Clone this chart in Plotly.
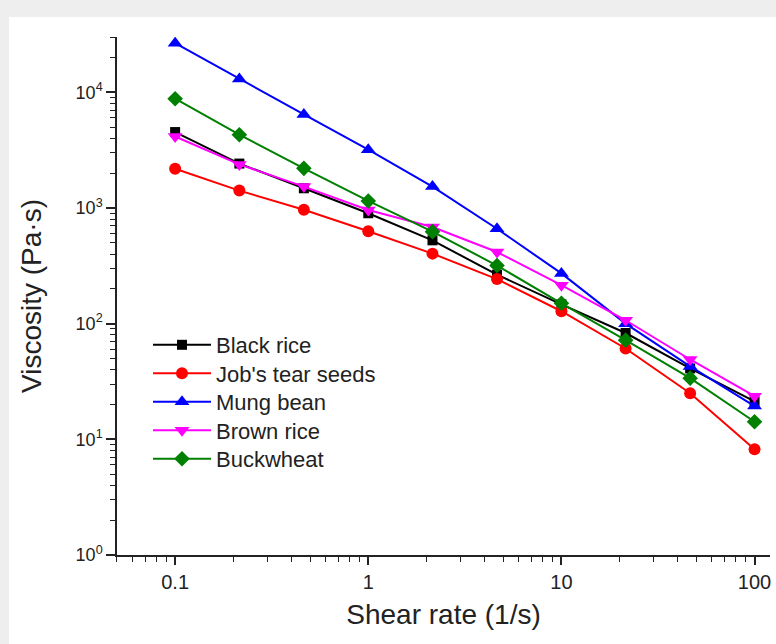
import plotly.graph_objects as go

shear_rate = [0.1, 0.215, 0.464, 1, 2.15, 4.64, 10, 21.5, 46.4, 100]
black_rice = [4530, 2420, 1480, 900, 525, 265, 147, 83, 41, 21.3]
jobs_tear = [2180, 1413, 966, 630, 403, 243, 128, 61, 25, 8.2]
mung_bean = [26600, 13000, 6440, 3190, 1530, 661, 272, 100, 42.7, 19.4]
brown_rice = [4150, 2380, 1530, 960, 684, 416, 215, 107, 49, 23.6]
buckwheat = [8800, 4300, 2200, 1150, 624, 318, 150, 72, 33.8, 14.2]

series = [
    ("Black rice", black_rice, "#000000", "square", 10),
    ("Job's tear seeds", jobs_tear, "#ff0000", "circle", 12),
    ("Mung bean", mung_bean, "#0000ff", "triangle-up", 13),
    ("Brown rice", brown_rice, "#ff00ff", "triangle-down", 13),
    ("Buckwheat", buckwheat, "#008000", "diamond", 12),
]

font_family = "Liberation Sans, Arial, sans-serif"
L, R, T, B = 117, 6, 37, 89
W, H = 776, 644
pw, ph = W - L - R, H - T - B

def px_x(p):
    return (p - L) / pw

def px_y(p):
    return (H - B - p) / ph

legend_names = ["legend", "legend2", "legend3", "legend4", "legend5"]
legend_rows = [345, 373.5, 402, 430.5, 459]

fig = go.Figure()
for (name, vals, color, sym, size), lg in zip(series, legend_names):
    fig.add_trace(go.Scatter(
        x=shear_rate, y=vals, name=name, mode="lines+markers",
        line=dict(color=color, width=2),
        marker=dict(symbol=sym, size=size, color=color, line=dict(color=color, width=0)),
        legend=lg,
    ))

fig.add_shape(type="rect", xref="paper", yref="paper",
              x0=px_x(9), x1=px_x(780), y0=px_y(648), y1=px_y(17),
              fillcolor="white", line=dict(width=0), layer="below")

legend_layout = {}
for lg, row in zip(legend_names, legend_rows):
    legend_layout[lg] = dict(
        x=px_x(148), y=px_y(row), xanchor="left", yanchor="middle",
        bgcolor="rgba(0,0,0,0)", font=dict(size=22, color="#222222"),
        itemwidth=58, tracegroupgap=0,
    )

fig.update_layout(
    width=W, height=H,
    margin=dict(l=L, r=R, t=T, b=B, pad=0),
    paper_bgcolor="#eeeeee",
    plot_bgcolor="white",
    font=dict(family=font_family, color="#222222"),
    showlegend=True,
    **legend_layout,
)

fig.update_xaxes(
    type="log", range=[-1.301, 2.08],
    showline=True, linecolor="#222222", linewidth=1.5,
    showgrid=False, zeroline=False,
    ticks="outside", ticklen=8, tickwidth=1.5, tickcolor="#222222",
    tickvals=[0.1, 1, 10, 100], ticktext=["0.1", "1", "10", "100"],
    tickfont=dict(size=20, color="#222222"),
    minor=dict(ticks="outside", ticklen=5, tickwidth=1, tickcolor="#222222",
               tickvals=[0.05, 0.06, 0.07, 0.08, 0.09,
                         0.2, 0.3, 0.4, 0.5, 0.6, 0.7, 0.8, 0.9,
                         2, 3, 4, 5, 6, 7, 8, 9,
                         20, 30, 40, 50, 60, 70, 80, 90],
               showgrid=False),
    title=dict(text="Shear rate (1/s)", font=dict(size=28, color="#222222"), standoff=13),
)

fig.update_yaxes(
    type="log", range=[0, 4.478],
    showline=True, linecolor="#222222", linewidth=1.5,
    showgrid=False, zeroline=False,
    ticks="outside", ticklen=9, tickwidth=1.5, tickcolor="#222222",
    tickvals=[1, 10, 100, 1000, 10000],
    ticktext=["10<sup>0</sup>", "10<sup>1</sup>", "10<sup>2</sup>", "10<sup>3</sup>", "10<sup>4</sup>"],
    tickfont=dict(size=18, color="#222222"),
    minor=dict(ticks="outside", ticklen=5, tickwidth=1, tickcolor="#222222",
               tickvals=[m * 10 ** e for e in range(0, 5) for m in range(2, 10) if m * 10 ** e <= 30000],
               showgrid=False),
    title=dict(text="Viscosity (Pa·s)", font=dict(size=28, color="#222222"), standoff=26),
)

fig.write_html("out.html")
